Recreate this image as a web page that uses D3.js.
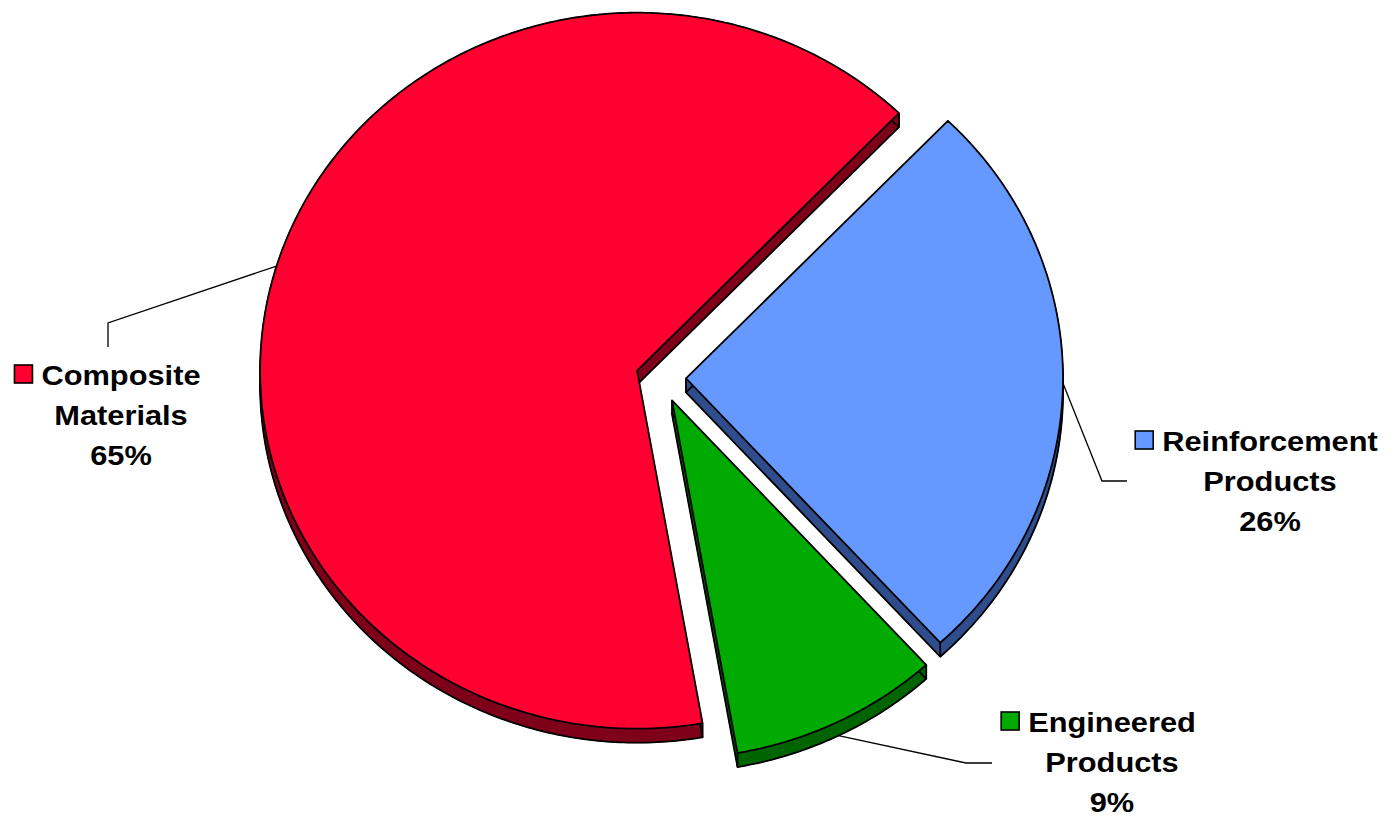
<!DOCTYPE html>
<html>
<head>
<meta charset="utf-8">
<script src="https://cdn.jsdelivr.net/npm/d3@7/dist/d3.min.js"></script>
<style>
  html, body { margin: 0; padding: 0; background: #fff; }
  .lbl { font-family: "Liberation Sans", Arial, sans-serif; font-weight: bold; font-size: 28px; fill: #000; }
</style>
</head>
<body>
<svg width="1393" height="818"></svg>
<script>
// pie data, in drawing order (clockwise from start angle)
const categories = ["Reinforcement Products", "Engineered Products", "Composite Materials"];
const values = [26, 9, 65];
const labelLines = [["Reinforcement", "Products"], ["Engineered", "Products"], ["Composite", "Materials"]];

// colours: top face / side face
const topColours = ["#6699FF", "#00AA00", "#FF0030"];
const sideColours = ["#2F4C8C", "#006400", "#7F0019"];

// layout
const cx = 661, cy = 378;
const rx = 377, ry = 358;
const explode = 25;
const depth = 14;
const startDeg = 44;
const xStretch = 1.1;

// label layout: text centre x, first baseline, leader elbow + end
const labelLayout = [
  { x: 1270, y: 451, elbow: [1102, 481], end: [1127, 481] },
  { x: 1112, y: 732, elbow: [966, 763], end: [992, 763] },
  { x: 121,  y: 385, elbow: [108, 323], end: [108, 347] }
];

const svg = d3.select("svg");
const total = d3.sum(values);
const pct = v => Math.round(v / total * 100) + "%";

const pie = d3.pie().sort(null).value(d => d)
  .startAngle(startDeg * Math.PI / 180)
  .endAngle(startDeg * Math.PI / 180 + 2 * Math.PI);
const arcs = pie(values);

const line = d3.line();

// draw back slice first so front ones sit over it
const order = [2, 0, 1];

order.forEach(i => {
  const a = arcs[i];
  const mid = (a.startAngle + a.endAngle) / 2;
  const ax = cx + explode * Math.sin(mid);
  const ay = cy - explode * Math.cos(mid);
  a.apex = [ax, ay];
  a.mid = mid;

  const n = Math.max(8, Math.ceil((a.endAngle - a.startAngle) * 90));
  const angs = d3.range(n + 1).map(k => a.startAngle + (a.endAngle - a.startAngle) * k / n);
  const pts = [[ax, ay]].concat(angs.map(t => [ax + rx * Math.sin(t), ay - ry * Math.cos(t)]));
  const low = pts.map(p => [p[0], p[1] + depth]);

  const g = svg.append("g");

  // side faces
  const quads = pts.map((p, k) => {
    const q = pts[(k + 1) % pts.length];
    return [p, q, [q[0], q[1] + depth], [p[0], p[1] + depth]];
  });
  g.selectAll("path.side").data(quads).enter().append("path")
    .attr("class", "side")
    .attr("d", d => line(d) + "Z")
    .attr("fill", sideColours[i])
    .attr("stroke", sideColours[i])
    .attr("stroke-width", 1);

  // bottom outline
  g.append("path")
    .attr("d", line(low) + "Z")
    .attr("fill", sideColours[i])
    .attr("stroke", "#000")
    .attr("stroke-width", 1.8)
    .attr("stroke-linejoin", "round");

  // vertical edges at corners
  const corners = [pts[0], pts[1], pts[pts.length - 1]];
  g.selectAll("line.edge").data(corners).enter().append("line")
    .attr("class", "edge")
    .attr("x1", d => d[0]).attr("y1", d => d[1])
    .attr("x2", d => d[0]).attr("y2", d => d[1] + depth)
    .attr("stroke", "#000").attr("stroke-width", 1.8);

  // top face
  g.append("path")
    .attr("d", line(pts) + "Z")
    .attr("fill", topColours[i])
    .attr("stroke", "#000")
    .attr("stroke-width", 1.8)
    .attr("stroke-linejoin", "round");
});

// leader lines
arcs.forEach((a, i) => {
  const L = labelLayout[i];
  const start = [a.apex[0] + rx * Math.sin(a.mid), a.apex[1] - ry * Math.cos(a.mid)];
  if (i === 1) start[1] += depth;
  svg.append("path")
    .attr("d", line([start, L.elbow, L.end]))
    .attr("fill", "none")
    .attr("stroke", "#000")
    .attr("stroke-width", 1.3);
});

// labels
arcs.forEach((a, i) => {
  const L = labelLayout[i];
  const lines = labelLines[i].concat([pct(values[i])]);
  const g = svg.append("g");
  let firstW = 0;
  lines.forEach((t, k) => {
    const txt = g.append("text")
      .attr("class", "lbl")
      .attr("text-anchor", "middle")
      .attr("transform", `translate(${L.x},${L.y + k * 40}) scale(${xStretch},1)`)
      .text(t);
    if (k === 0) firstW = txt.node().getComputedTextLength() * xStretch;
  });
  const sx = L.x - firstW / 2 - 27;
  g.append("rect")
    .attr("x", sx).attr("y", L.y - 20)
    .attr("width", 18).attr("height", 18)
    .attr("fill", topColours[i])
    .attr("stroke", "#000")
    .attr("stroke-width", 1.6);
});
</script>
</body>
</html>
